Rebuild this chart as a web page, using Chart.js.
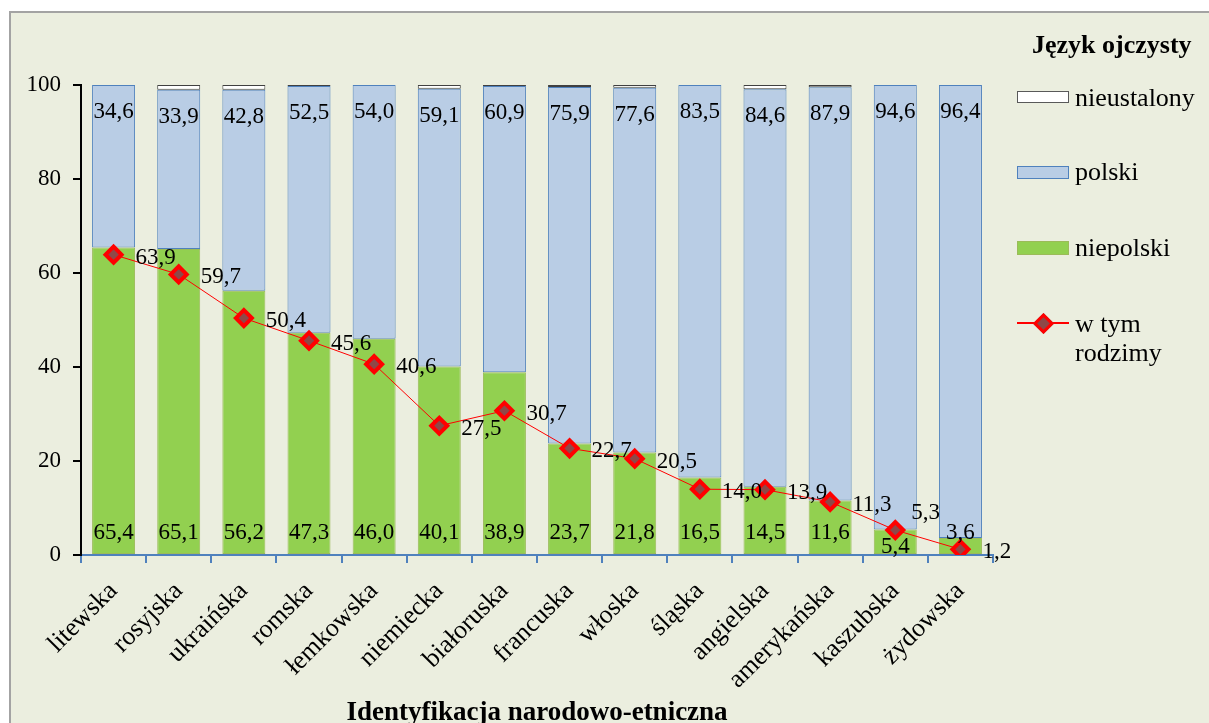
<!DOCTYPE html>
<html>
<head>
<meta charset="utf-8">
<script src="https://cdn.jsdelivr.net/npm/chart.js@4/dist/chart.umd.min.js"></script>
<style>
  body { margin: 0; background: #fff; width: 1209px; height: 723px; overflow: hidden; position: relative; font-family: "Liberation Serif", "Times New Roman", serif; }
  #box { position: absolute; left: 9px; top: 11px; width: 1198px; height: 716px; border: 2px solid #a3a3a3; background: #ebeedf; }
  canvas { display: block; }
  .lg { position: absolute; color: #000; white-space: nowrap; }
  .sw { position: absolute; width: 50px; }
</style>
</head>
<body>
<div id="box"><canvas id="c" width="1198" height="716"></canvas></div>

<div class="lg" style="left:1032px; top:29px; font-size:26px; font-weight:bold; line-height:32px;">Język ojczysty</div>
<div class="sw" style="left:1017px; top:91px; height:10px; background:#fff; border:1px solid #595959;"></div>
<div class="lg" style="left:1075px; top:82px; font-size:26px; line-height:32px;">nieustalony</div>
<div class="sw" style="left:1017px; top:166px; height:11px; background:#b9cde5; border:1px solid #4f81bd;"></div>
<div class="lg" style="left:1075px; top:156px; font-size:26px; line-height:32px;">polski</div>
<div class="sw" style="left:1017px; top:241px; height:12px; background:#92d050; border:1px solid #9bbb59;"></div>
<div class="lg" style="left:1075px; top:232px; font-size:26px; line-height:32px;">niepolski</div>
<div style="position:absolute; left:1017px; top:322px; width:52px; height:2px; background:#ff0000;"></div>
<div style="position:absolute; left:1036px; top:316px; width:9px; height:9px; background:#8e4848; border:3px solid #ff0000; transform:rotate(45deg);"></div>
<div class="lg" style="left:1075px; top:309px; font-size:26px; line-height:29px;">w tym<br>rodzimy</div>

<script>
const categories = ["litewska", "rosyjska", "ukraińska", "romska", "łemkowska", "niemiecka", "białoruska",
  "francuska", "włoska", "śląska", "angielska", "amerykańska", "kaszubska", "żydowska"];
const niepolski = [65.4, 65.1, 56.2, 47.3, 46.0, 40.1, 38.9, 23.7, 21.8, 16.5, 14.5, 11.6, 5.4, 3.6];
const polski = [34.6, 33.9, 42.8, 52.5, 54.0, 59.1, 60.9, 75.9, 77.6, 83.5, 84.6, 87.9, 94.6, 96.4];
const nieustalony = [0, 1.0, 1.0, 0.2, 0, 0.8, 0.2, 0.4, 0.6, 0, 0.9, 0.5, 0, 0];
const rodzimy = [63.9, 59.7, 50.4, 45.6, 40.6, 27.5, 30.7, 22.7, 20.5, 14.0, 13.9, 11.3, 5.3, 1.2];
const yTicks = [0, 20, 40, 60, 80, 100];

const FONT = '"Liberation Serif", "Times New Roman", serif';
const fmt = v => v.toFixed(1).replace('.', ',');

// data labels drawn by hand (no datalabels plugin available)
const labelPlugin = {
  id: 'labels',
  afterDatasetsDraw(chart) {
    const ctx = chart.ctx;
    ctx.save();
    ctx.font = '23px ' + FONT;
    ctx.fillStyle = '#000';
    ctx.textBaseline = 'middle';
    ctx.textAlign = 'center';
    const bottom = chart.scales.y.getPixelForValue(0);
    const last = categories.length - 2; // kaszubska labels were moved by hand in the original
    chart.getDatasetMeta(1).data.forEach((bar, i) => {
      ctx.fillText(fmt(niepolski[i]), bar.x, bottom - (i === last ? 8 : 22));
    });
    chart.getDatasetMeta(2).data.forEach((bar, i) => {
      ctx.fillText(fmt(polski[i]), bar.x, bar.y + 27);
    });
    ctx.textAlign = 'left';
    chart.getDatasetMeta(0).data.forEach((pt, i) => {
      if (i === last) ctx.fillText(fmt(rodzimy[i]), pt.x + 16, pt.y - 17);
      else ctx.fillText(fmt(rodzimy[i]), pt.x + 22, pt.y + 3);
    });
    ctx.restore();
  }
};

new Chart(document.getElementById('c'), {
  type: 'bar',
  data: {
    labels: categories,
    datasets: [
      {
        type: 'line',
        label: 'w tym rodzimy',
        data: rodzimy,
        borderColor: '#ff0000',
        borderWidth: 1,
        backgroundColor: '#8e4848',
        pointStyle: 'rectRot',
        pointRadius: 8,
        pointBorderWidth: 4,
        pointBorderColor: '#ff0000',
        pointBackgroundColor: '#8e4848',
        tension: 0
      },
      {
        label: 'niepolski',
        data: niepolski,
        backgroundColor: '#92d050',
        borderColor: '#9bbb59',
        borderWidth: 1,
        borderSkipped: false
      },
      {
        label: 'polski',
        data: polski,
        backgroundColor: '#b9cde5',
        borderColor: '#4f81bd',
        borderWidth: 1,
        borderSkipped: false
      },
      {
        label: 'nieustalony',
        data: nieustalony,
        backgroundColor: '#ffffff',
        borderColor: '#404040',
        borderWidth: 1,
        borderSkipped: false
      }
    ]
  },
  options: {
    responsive: false,
    animation: false,
    devicePixelRatio: 1,
    layout: { padding: { left: 0, right: 216, top: 72, bottom: 0 } },
    plugins: { legend: { display: false }, tooltip: { enabled: false } },
    datasets: { bar: { barPercentage: 0.66, categoryPercentage: 1 } },
    scales: {
      x: {
        stacked: true,
        afterFit: s => { s.height = 174; },
        border: { color: '#4f81bd', width: 2 },
        grid: { drawOnChartArea: false, drawTicks: true, tickLength: 8, color: '#4f81bd', lineWidth: 2, offset: true },
        ticks: { color: '#000', font: { family: FONT, size: 26 }, minRotation: 45, maxRotation: 45, padding: 13, autoSkip: false },
        title: { display: true, text: 'Identyfikacja narodowo-etniczna', color: '#000', font: { family: FONT, size: 27, weight: 'bold' }, padding: { top: 0, bottom: 0 } }
      },
      y: {
        stacked: true,
        min: 0,
        max: 100,
        afterFit: s => { s.width = 70; },
        afterBuildTicks: s => { s.ticks = yTicks.map(v => ({ value: v })); },
        border: { color: '#000', width: 2 },
        grid: { drawOnChartArea: false, drawTicks: true, tickLength: 8, color: '#000', lineWidth: 2 },
        ticks: { color: '#000', font: { family: FONT, size: 23 }, padding: 12 }
      }
    }
  },
  plugins: [labelPlugin]
});
</script>
</body>
</html>
